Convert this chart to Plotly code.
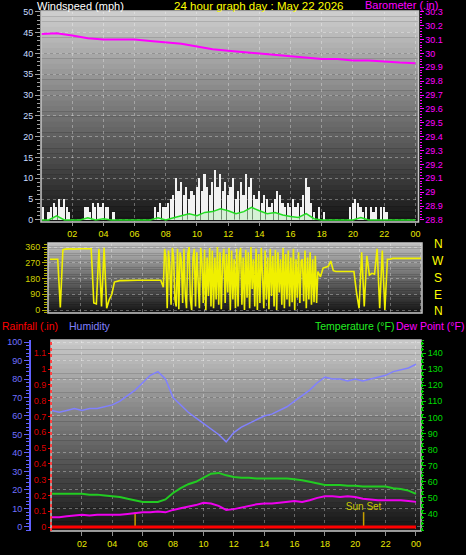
import plotly.graph_objects as go

W, H = 466, 555

# ---------------- data ----------------
# wind gusts (mph), 10-minute samples starting 00:00
gust = [0,3,0,2,3,4,3,5,3,5,3,2,
        0,0,0,0,0,3,3,2,4,3,4,3,
        4,3,3,0,2,0,0,0,0,0,0,0,
        0,0,0,0,0,0,0,0,3,2,4,3,
        3,4,5,6,10,7,9,6,8,5,7,6,
        8,10,7,11,8,6,9,12,8,11,7,9,
        6,8,10,5,7,9,6,11,8,10,6,5,
        7,4,6,5,3,4,5,7,6,4,3,4,
        3,5,3,4,3,6,10,8,4,2,0,3,
        0,2,0,0,0,0,0,0,0,0,0,3,
        4,5,4,3,2,3,0,3,2,3,0,3,
        3,2,0,0,0,0,0,0,0,0,0,0]
gust_t = [i / 6 for i in range(len(gust))]

# average wind (mph), 30-minute samples
avg_wind = [0,0,1,0,0,0,0.5,0,0.3,0,0,0,0,0,0,0.5,0,0.5,1,1.5,1,1.8,2,2.7,
            2.2,1.5,2,3,2.2,1.5,1.8,1.2,0.8,0.6,1.5,0.3,0,0,0,0,0,0.6,0,0,0,0,0,0,0]
half_t = [i / 2 for i in range(49)]

# barometer (in), hourly
baro = [30.14,30.145,30.13,30.11,30.10,30.10,30.10,30.09,30.08,30.07,30.05,30.03,
        30.02,30.01,30.00,29.99,29.98,29.97,29.96,29.96,29.95,29.95,29.94,29.935,29.93]
hour_t = list(range(25))

# wind direction (deg): calm morning (10-min), gusty day (5-min), evening (10-min)
wdir_morning = [290,290,290,290,15,345,
                348,350,350,348,350,352,350,350,350,350,350,
                40,35,350,20,355,10,60,90,160,165,
                168,168,169,170,170,170,170,170,170,170,170,170,170,170,170,170,170]
wdir_day = [130,350,300,10,340,250,30,355,300,60,20,350,
            5,330,280,40,350,90,10,320,360,60,0,300,
            350,20,330,150,10,355,270,40,345,0,300,80,
            355,20,340,10,300,60,360,30,330,5,280,350,
            40,320,100,355,0,340,60,290,10,350,20,310,
            355,30,300,0,345,70,330,10,360,120,290,20,
            350,0,320,40,355,200,10,340,60,300,5,350,
            80,310,20,345,0,330,100,290,30,355,10,320,
            60,340,20,300,45,350,0,290,70,330,40,280,
            290,50,340,10,300,60,330,30,290,45,310,40,
            220]
wdir_evening = [190,240,245,250,280,225,
                220,220,220,220,220,220,220,220,
                100,10,330,20,310,200,210,205,350,10,340,0,290,
                290,295,295,295,295,295,295,295,295,295,295,295,295]
wdir = wdir_morning + wdir_day + wdir_evening
wdir_t = ([i / 6 for i in range(len(wdir_morning))]
          + [88 / 12 + i / 12 for i in range(len(wdir_day))]
          + [(105 + i) / 6 for i in range(len(wdir_evening))])

# humidity (%), temperature and dew point (F), 30-minute samples
humidity = [63,62,63,64,63,64,64,65,66,68,71,74,78,82,84,80,70,66,62,59,56,53,50,46,
            51,54,56,58,60,61,63,65,68,71,74,78,81,80,80,79,80,79,80,81,82,84,85,86,88]
temperature = [52.5,52.5,52.5,52.5,52.5,52,52,51.5,51,50.5,49.5,48.5,47.5,47.5,47.5,49,
               53,56,58.5,60,62.5,65,65.5,64,63,62.5,62.5,62,62,62,62,62,61.5,61,60,59,
               58,58,58,57.5,57.5,57,57,57,57,56,55.5,54.5,52.5]
dewpoint = [38,38,38.5,39,39.5,39,39.5,39.5,39.5,39.5,40,40.5,41,41,41.5,41,42.5,43.5,
            44.5,45.5,47,46.5,45,42.5,43,44,45,46,46.5,46.5,47,47.5,48,47.5,48.5,50,
            51,51,50.5,51,50.5,49.5,49,48.5,48.5,48.5,48.5,48,47.5]
rain_t = [0, 24]
rain = [0.0, 0.0]

sun_events = [5.5, 20.55]
sun_labels = ["", "Sun Set"]

hour_ticks = [2,4,6,8,10,12,14,16,18,20,22,24]
hour_labels = ["02","04","06","08","10","12","14","16","18","20","22","00"]
wind_ticks = [0,5,10,15,20,25,30,35,40,45,50]
baro_ticks = [28.8,28.9,29.0,29.1,29.2,29.3,29.4,29.5,29.6,29.7,29.8,29.9,30.0,30.1,30.2,30.3]
baro_labels = ["28.8","28.9","29","29.1","29.2","29.3","29.4","29.5","29.6","29.7",
               "29.8","29.9","30","30.1","30.2","30.3"]
dir_ticks = [0,90,180,270,360]
compass = ["N","W","S","E","N"]
hum_ticks = [0,10,20,30,40,50,60,70,80,90,100]
rain_ticks = [0,0.1,0.2,0.3,0.4,0.5,0.6,0.7,0.8,0.9,1.0,1.1]
rain_labels = ["0","0.1","0.2","0.3","0.4","0.5","0.6","0.7","0.8","0.9","1","1.1"]
temp_ticks = [40,50,60,70,80,90,100,110,120,130,140]

# ---------------- helpers ----------------
def fx(px):
    return px / W

def fy(py):
    return 1 - py / H

FONT = "Liberation Sans, Arial, sans-serif"
GRID = "rgba(255,255,255,0.32)"

# panel boxes in pixels (left, top, right, bottom)
P1 = (41, 11, 418.5, 222)
P2 = (48, 243, 422, 313)
P3 = (51, 340, 421, 531)

fig = go.Figure()

# wind gust bars
fig.add_trace(go.Bar(x=gust_t, y=gust, width=0.11, marker=dict(color="#f2f2f2", line=dict(width=0)),
                     xaxis="x", yaxis="y", hoverinfo="skip"))
# average wind
fig.add_trace(go.Scatter(x=half_t, y=avg_wind, mode="lines", line=dict(color="#22dd22", width=1.5),
                         fill="tozeroy", fillcolor="rgba(190,240,190,0.55)", xaxis="x", yaxis="y"))
# barometer
fig.add_trace(go.Scatter(x=hour_t, y=baro, mode="lines", line=dict(color="#ff00ff", width=2),
                         xaxis="x", yaxis="y2"))
# wind direction
fig.add_trace(go.Scatter(x=wdir_t, y=wdir, mode="lines", line=dict(color="#f0f000", width=1.6),
                         xaxis="x2", yaxis="y3"))
# humidity
fig.add_trace(go.Scatter(x=half_t, y=humidity, mode="lines", line=dict(color="#8080ff", width=1.5),
                         xaxis="x3", yaxis="y4"))
# temperature, dew point
fig.add_trace(go.Scatter(x=half_t, y=temperature, mode="lines", line=dict(color="#22cc22", width=2),
                         xaxis="x3", yaxis="y6"))
fig.add_trace(go.Scatter(x=half_t, y=dewpoint, mode="lines", line=dict(color="#ee00ee", width=2),
                         xaxis="x3", yaxis="y6"))
# rain
fig.add_trace(go.Scatter(x=rain_t, y=rain, mode="lines", line=dict(color="#ff0000", width=3),
                         xaxis="x3", yaxis="y5"))
# sunrise / sunset markers
sx, sy = [], []
for t in sun_events:
    sx += [t, t, None]
    sy += [0, 8, None]
fig.add_trace(go.Scatter(x=sx, y=sy, mode="lines", line=dict(color="#c8a000", width=1.5),
                         xaxis="x3", yaxis="y4"))
fig.add_trace(go.Scatter(x=sun_events, y=[10.5, 10.5], mode="text", text=sun_labels,
                         textposition="middle center",
                         textfont=dict(color="#c8c800", size=10, family=FONT),
                         xaxis="x3", yaxis="y4"))

# ---------------- background gradients & frames ----------------
shapes = []
def gradient(box, c_top, c_bot, n=40):
    l, t, r, b = box
    for k in range(n):
        f = k / (n - 1)
        c = [int(round(c_top[j] + (c_bot[j] - c_top[j]) * f)) for j in range(3)]
        y0 = t + (b - t) * k / n
        y1 = t + (b - t) * (k + 1) / n
        shapes.append(dict(type="rect", xref="paper", yref="paper", layer="below",
                           x0=fx(l), x1=fx(r), y0=fy(y1) - 0.0005, y1=fy(y0),
                           fillcolor="rgb(%d,%d,%d)" % tuple(c), line=dict(width=0)))
    shapes.append(dict(type="rect", xref="paper", yref="paper", layer="above",
                       x0=fx(l), x1=fx(r), y0=fy(b), y1=fy(t),
                       line=dict(color="#c8c8c8", width=1.5), fillcolor="rgba(0,0,0,0)"))

gradient(P1, (205, 205, 205), (22, 22, 22))
gradient(P2, (190, 190, 190), (22, 22, 22))
gradient(P3, (200, 200, 200), (20, 20, 20))
# dotted axis lines for rain and temperature
shapes.append(dict(type="line", xref="paper", yref="paper", x0=fx(51), x1=fx(51),
                   y0=fy(531), y1=fy(340), line=dict(color="#ff4040", width=2, dash="dot")))
shapes.append(dict(type="line", xref="paper", yref="paper", x0=fx(422), x1=fx(422),
                   y0=fy(531), y1=fy(340), line=dict(color="#00cc00", width=2, dash="dot")))

# ---------------- annotations ----------------
ann = []
def text(s, x, y, color, size=11, anchor="left"):
    ann.append(dict(text=s, x=fx(x), y=fy(y), xref="paper", yref="paper", showarrow=False,
                    xanchor=anchor, yanchor="middle", font=dict(color=color, size=size, family=FONT)))

text("Windspeed (mph)", 35, 6, "#ffffff", 11)
text("24 hour graph day : May 22 2026", 172, 6, "#ffff00", 11.5)
text("Barometer (.in)", 440, 5, "#ff00ff", 11, "right")
text("Rainfall (.in)", 0, 326, "#ff0000", 10.5)
text("Humidity", 67, 326, "#8080ff", 10.5)
text("Temperature (°F)", 313, 326, "#22ee22", 10.5)
text("Dew Point (°F)", 394, 326, "#ff00ff", 10.5)
for s, yy in zip(compass, [244, 261, 278, 295, 311]):
    text(s, 438, yy, "#ffff00", 12, "center")

tf = lambda c: dict(color=c, size=9, family=FONT)

fig.update_layout(
    template="none",
    width=W, height=H, autosize=False,
    margin=dict(l=0, r=0, t=0, b=0),
    paper_bgcolor="#000000", plot_bgcolor="rgba(0,0,0,0)",
    showlegend=False, bargap=0,
    shapes=shapes, annotations=ann,
    xaxis=dict(domain=[fx(P1[0]), fx(P1[2])], range=[0, 24.2], anchor="y",
               tickvals=hour_ticks, ticktext=hour_labels, tickfont=tf("#e8e800"),
               ticks="outside", ticklen=3, tickcolor="#909090",
               showgrid=True, gridcolor=GRID, griddash="dot", zeroline=False, showline=False,
               automargin=False),
    yaxis=dict(domain=[fy(P1[3]), fy(P1[1])], range=[-0.5, 50.2], anchor="x",
               tickvals=wind_ticks, tickfont=tf("#c8dcff"), ticks="outside", ticklen=5,
               tickcolor="#a0a0a0", minor=dict(dtick=1, ticklen=3, tickcolor="#a0a0a0", ticks="outside"),
               showgrid=True, gridcolor=GRID, griddash="dot", zeroline=False, showline=False,
               automargin=False),
    yaxis2=dict(overlaying="y", side="right", anchor="x", range=[28.785, 30.306],
                tickvals=baro_ticks, ticktext=baro_labels, tickfont=tf("#ff00ff"),
                ticks="outside", ticklen=4, tickcolor="#ff00ff",
                minor=dict(dtick=0.02, ticklen=2, tickcolor="#ff00ff", ticks="outside"),
                showgrid=False, zeroline=False, showline=False, automargin=False),
    xaxis2=dict(domain=[fx(P2[0]), fx(P2[2])], range=[-0.13, 24.07], anchor="y3",
                tickvals=hour_ticks, showticklabels=False, ticks="",
                showgrid=True, gridcolor=GRID, griddash="dot", zeroline=False, showline=False,
                automargin=False),
    yaxis3=dict(domain=[fy(P2[3]), fy(P2[1])], range=[-17, 383], anchor="x2",
                tickvals=dir_ticks, tickfont=tf("#d0d000"), ticks="outside", ticklen=5,
                tickcolor="#b0b000", minor=dict(dtick=15, ticklen=3, tickcolor="#b0b000", ticks="outside"),
                showgrid=True, gridcolor=GRID, griddash="dot", zeroline=False, showline=False,
                automargin=False),
    xaxis3=dict(domain=[fx(P3[0]), fx(P3[2])], range=[-0.04, 24.33], anchor="y4",
                tickvals=hour_ticks, ticktext=hour_labels, tickfont=tf("#e8e800"),
                ticks="outside", ticklen=4, tickcolor="#909090",
                showgrid=True, gridcolor=GRID, griddash="dot", zeroline=False, showline=False,
                automargin=False),
    yaxis4=dict(domain=[fy(P3[3]), fy(P3[1])], range=[-2.2, 101.1], anchor="free",
                position=fx(30), side="left",
                tickvals=hum_ticks, tickfont=tf("#7070ff"), ticks="outside", ticklen=5,
                tickcolor="#6060ff", minor=dict(dtick=2, ticklen=3, tickcolor="#6060ff", ticks="outside"),
                showline=True, linecolor="#6060ff", linewidth=2,
                showgrid=True, gridcolor=GRID, griddash="dot", zeroline=False, automargin=False),
    yaxis5=dict(overlaying="y4", anchor="free", position=fx(51), side="left",
                range=[-0.025, 1.184], tickvals=rain_ticks, ticktext=rain_labels,
                tickfont=tf("#dd0000"), ticks="outside", ticklen=3, tickcolor="#ff0000",
                showgrid=False, zeroline=False, showline=False, automargin=False),
    yaxis6=dict(overlaying="y4", anchor="x3", side="right", range=[29.4, 148.1],
                tickvals=temp_ticks, tickfont=tf("#00dd00"), ticks="outside", ticklen=4,
                tickcolor="#00cc00", minor=dict(dtick=2, ticklen=2, tickcolor="#00cc00", ticks="outside"),
                showgrid=False, zeroline=False, showline=False, automargin=False),
)

fig.write_html("out.html", config={"displayModeBar": False},
               post_script="document.body.style.margin='0';document.body.style.background='#000';")
